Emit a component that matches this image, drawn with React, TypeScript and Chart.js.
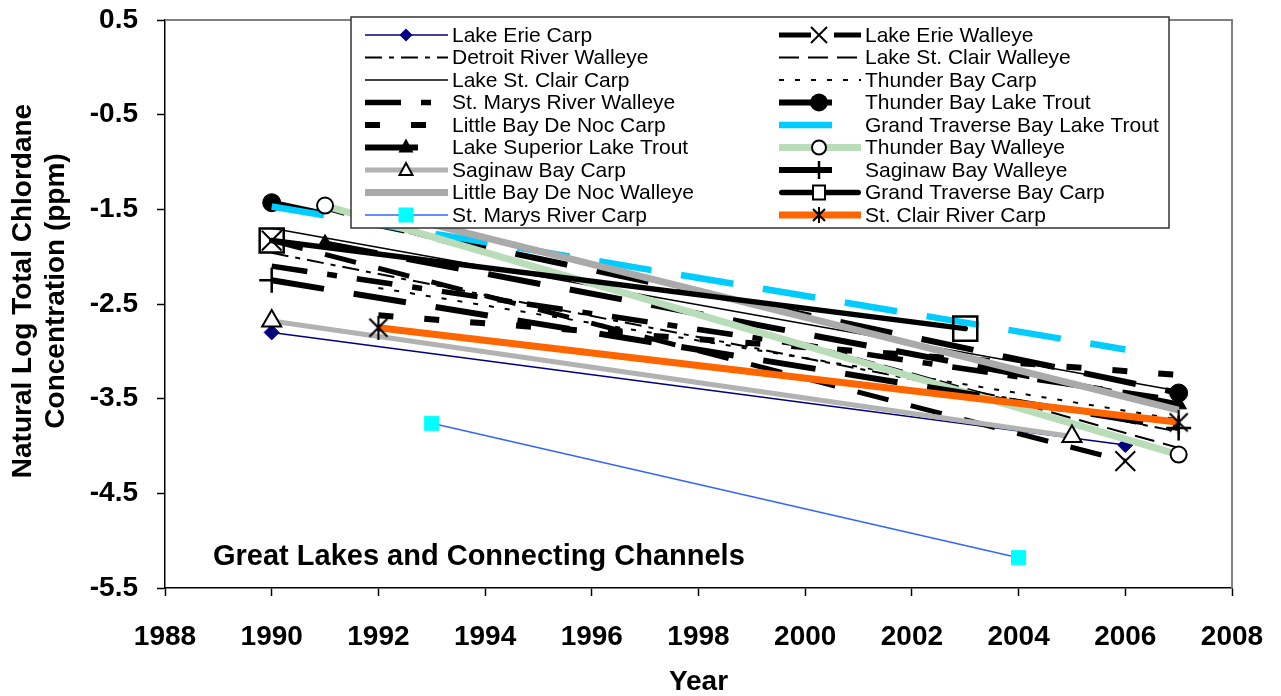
import React, { useEffect, useRef } from 'react';
import { Chart, registerables } from 'chart.js';

Chart.register(...registerables);

const FONT = '"Liberation Sans", Arial, Helvetica, sans-serif';

// ---------------- DATA ----------------
const seriesNames = [
  'Lake Erie Carp',
  'Lake Erie Walleye',
  'Detroit River Walleye',
  'Lake St. Clair Walleye',
  'Lake St. Clair Carp',
  'Thunder Bay Carp',
  'St. Marys River Walleye',
  'Thunder Bay Lake Trout',
  'Little Bay De Noc Carp',
  'Grand Traverse Bay Lake Trout',
  'Lake Superior Lake Trout',
  'Thunder Bay Walleye',
  'Saginaw Bay Carp',
  'Saginaw Bay Walleye',
  'Little Bay De Noc Walleye',
  'Grand Traverse Bay Carp',
  'St. Marys River Carp',
  'St. Clair River Carp',
];

const seriesYears = [
  [1990, 2006],
  [1990, 2006],
  [1990, 2007],
  [1991, 2007],
  [1990, 2007],
  [1992, 2007],
  [1990, 2007],
  [1990, 2007],
  [1992, 2007],
  [1990, 2006],
  [1991, 2007],
  [1991, 2007],
  [1990, 2005],
  [1990, 2007],
  [1992, 2007],
  [1990, 2003],
  [1993, 2004],
  [1992, 2007],
];

const seriesValues = [
  [-2.8, -3.99],
  [-1.83, -4.16],
  [-1.96, -3.85],
  [-1.5, -4.02],
  [-1.7, -3.42],
  [-2.33, -3.72],
  [-2.1, -3.52],
  [-1.43, -3.44],
  [-2.62, -3.25],
  [-1.47, -2.98],
  [-1.86, -3.56],
  [-1.46, -4.09],
  [-2.68, -3.9],
  [-2.25, -3.81],
  [-1.52, -3.62],
  [-1.83, -2.76],
  [-3.76, -5.18],
  [-2.75, -3.75],
];

const xTicks = [1988, 1990, 1992, 1994, 1996, 1998, 2000, 2002, 2004, 2006, 2008];
const yTicks = [0.5, -0.5, -1.5, -2.5, -3.5, -4.5, -5.5];
const xTitle = 'Year';
const yTitle = ['Natural Log Total Chlordane', 'Concentration (ppm)'];
const noteText = 'Great Lakes and Connecting Channels';

// ---------------- STYLES ----------------
type Marker = { style: any; r: number; fill: string; stroke: string; lw: number };
type Style = {
  color: string;
  width: number;
  dash: number[];
  cap?: CanvasLineCap;
  marker?: Marker;
  legendMarker?: string;
};

function makeAsterisk(w: number, h: number, lw: number): HTMLCanvasElement {
  const c = document.createElement('canvas');
  c.width = w;
  c.height = h;
  const g = c.getContext('2d')!;
  g.strokeStyle = '#000';
  g.lineWidth = lw;
  g.beginPath();
  g.moveTo(2, 3);
  g.lineTo(w - 2, h - 3);
  g.moveTo(w - 2, 3);
  g.lineTo(2, h - 3);
  g.moveTo(w / 2, 0);
  g.lineTo(w / 2, h);
  g.stroke();
  return c;
}

function buildStyles(): Style[] {
  const asterisk = makeAsterisk(22, 24, 2.2);
  return [
    { color: '#000080', width: 1.5, dash: [], marker: { style: 'rectRot', r: 7.5, fill: '#000080', stroke: '#000080', lw: 1 }, legendMarker: 'diamond' },
    { color: '#000000', width: 5, dash: [32, 23], marker: { style: 'crossRot', r: 14, fill: '#000', stroke: '#000', lw: 2 }, legendMarker: 'x' },
    { color: '#000000', width: 2, dash: [17, 7, 5, 7] },
    { color: '#000000', width: 2, dash: [20, 9] },
    { color: '#000000', width: 1.5, dash: [] },
    { color: '#000000', width: 2, dash: [5, 11] },
    { color: '#000000', width: 5.5, dash: [36, 20, 10, 20] },
    { color: '#000000', width: 6, dash: [53, 30], marker: { style: 'circle', r: 9, fill: '#000', stroke: '#000', lw: 1 }, legendMarker: 'dot' },
    { color: '#000000', width: 6, dash: [15, 31] },
    { color: '#00ccff', width: 6.5, dash: [53, 30] },
    { color: '#000000', width: 6, dash: [53, 30], marker: { style: 'triangle', r: 9, fill: '#000', stroke: '#000', lw: 1 }, legendMarker: 'triFill' },
    { color: '#b9dcb9', width: 7, dash: [], marker: { style: 'circle', r: 8, fill: '#ffffff', stroke: '#000', lw: 2 }, legendMarker: 'ring' },
    { color: '#b2b2b2', width: 5, dash: [], marker: { style: 'triangle', r: 11, fill: '#ffffff', stroke: '#000', lw: 2 }, legendMarker: 'triOpen' },
    { color: '#000000', width: 6, dash: [53, 30], marker: { style: 'cross', r: 12.5, fill: '#000', stroke: '#000', lw: 2.5 }, legendMarker: 'plus' },
    { color: '#aaaaaa', width: 7, dash: [] },
    { color: '#000000', width: 5.5, dash: [], cap: 'round', marker: { style: 'rect', r: 17, fill: 'rgba(0,0,0,0)', stroke: '#000', lw: 2.5 }, legendMarker: 'square' },
    { color: '#3366ff', width: 1.5, dash: [], marker: { style: 'rect', r: 10, fill: '#00ffff', stroke: '#00ffff', lw: 1 }, legendMarker: 'cyan' },
    { color: '#ff6600', width: 7, dash: [], marker: { style: asterisk, r: 10, fill: '#000', stroke: '#000', lw: 1 }, legendMarker: 'asterisk' },
  ];
}

function drawLegendMarker(ctx: CanvasRenderingContext2D, kind: string, x: number, y: number) {
  ctx.save();
  ctx.setLineDash([]);
  ctx.lineCap = 'butt';
  ctx.strokeStyle = '#000';
  ctx.fillStyle = '#000';
  ctx.beginPath();
  switch (kind) {
    case 'diamond':
      ctx.fillStyle = '#000080';
      ctx.moveTo(x - 6.5, y);
      ctx.lineTo(x, y - 6.5);
      ctx.lineTo(x + 6.5, y);
      ctx.lineTo(x, y + 6.5);
      ctx.closePath();
      ctx.fill();
      break;
    case 'x':
      ctx.lineWidth = 2;
      ctx.moveTo(x - 8, y - 8);
      ctx.lineTo(x + 8, y + 8);
      ctx.moveTo(x + 8, y - 8);
      ctx.lineTo(x - 8, y + 8);
      ctx.stroke();
      break;
    case 'dot':
      ctx.arc(x, y, 9, 0, Math.PI * 2);
      ctx.fill();
      break;
    case 'triFill':
      ctx.moveTo(x, y - 9);
      ctx.lineTo(x + 7.5, y + 5);
      ctx.lineTo(x - 7.5, y + 5);
      ctx.closePath();
      ctx.fill();
      break;
    case 'ring':
      ctx.lineWidth = 2;
      ctx.fillStyle = '#ffffff';
      ctx.arc(x, y, 7, 0, Math.PI * 2);
      ctx.fill();
      ctx.stroke();
      break;
    case 'triOpen':
      ctx.lineWidth = 2;
      ctx.fillStyle = '#ffffff';
      ctx.moveTo(x, y - 7);
      ctx.lineTo(x + 6.5, y + 5);
      ctx.lineTo(x - 6.5, y + 5);
      ctx.closePath();
      ctx.fill();
      ctx.stroke();
      break;
    case 'plus':
      ctx.lineWidth = 2.5;
      ctx.moveTo(x, y - 9);
      ctx.lineTo(x, y + 9);
      ctx.moveTo(x - 9, y);
      ctx.lineTo(x + 9, y);
      ctx.stroke();
      break;
    case 'square':
      ctx.lineWidth = 2;
      ctx.fillStyle = '#ffffff';
      ctx.rect(x - 6, y - 7, 12, 14);
      ctx.fill();
      ctx.stroke();
      break;
    case 'cyan':
      ctx.fillStyle = '#00ffff';
      ctx.fillRect(x - 7.5, y - 7.5, 15, 15);
      break;
    case 'asterisk':
      ctx.lineWidth = 2;
      ctx.moveTo(x - 6, y - 6);
      ctx.lineTo(x + 6, y + 6);
      ctx.moveTo(x + 6, y - 6);
      ctx.lineTo(x - 6, y + 6);
      ctx.moveTo(x, y - 8);
      ctx.lineTo(x, y + 8);
      ctx.stroke();
      break;
  }
  ctx.restore();
}

function makeOverlayPlugin(styles: Style[]) {
  return {
    id: 'overlay',
    afterDraw(chart: any) {
      const ctx: CanvasRenderingContext2D = chart.ctx;
      const ca = chart.chartArea;
      ctx.save();

      // plot-area top and right border
      ctx.strokeStyle = '#808080';
      ctx.lineWidth = 2;
      ctx.beginPath();
      ctx.moveTo(ca.left, ca.top);
      ctx.lineTo(ca.right, ca.top);
      ctx.lineTo(ca.right, ca.bottom);
      ctx.stroke();

      // y-axis title (two lines, rotated)
      ctx.save();
      ctx.fillStyle = '#000';
      ctx.font = `bold 28px ${FONT}`;
      ctx.textAlign = 'center';
      ctx.textBaseline = 'middle';
      const titleCenterY = 291;
      ctx.translate(23, titleCenterY);
      ctx.rotate(-Math.PI / 2);
      ctx.fillText(yTitle[0], 0, 0);
      ctx.fillText(yTitle[1], 0, 33);
      ctx.restore();

      // note text
      ctx.fillStyle = '#000';
      ctx.font = `bold 29px ${FONT}`;
      ctx.textBaseline = 'middle';
      ctx.textAlign = 'left';
      ctx.fillText(noteText, 213, 557);

      // legend box
      const bx = 351, by = 17, bw = 818, bh = 211;
      ctx.fillStyle = '#ffffff';
      ctx.fillRect(bx, by, bw, bh);
      ctx.strokeStyle = '#333333';
      ctx.lineWidth = 1.5;
      ctx.strokeRect(bx, by, bw, bh);

      const rowY0 = 35;
      const rowH = 22.5;
      const cols = [
        { x0: 365, x1: 448, mx: 406, tx: 452 },
        { x0: 779, x1: 861, mx: 819, tx: 865 },
      ];
      ctx.font = `21px ${FONT}`;
      for (let i = 0; i < seriesNames.length; i++) {
        const st = styles[i];
        const col = cols[i % 2];
        const y = rowY0 + Math.floor(i / 2) * rowH;
        ctx.save();
        ctx.strokeStyle = st.color;
        ctx.lineWidth = st.width;
        ctx.lineCap = st.cap || 'butt';
        ctx.setLineDash(st.dash);
        ctx.beginPath();
        const off = st.cap === 'round' ? st.width / 2 : 0;
        ctx.moveTo(col.x0 + off, y);
        ctx.lineTo(col.x1 - off, y);
        ctx.stroke();
        ctx.restore();
        if (st.legendMarker) drawLegendMarker(ctx, st.legendMarker, col.mx, y);
        ctx.fillStyle = '#000';
        ctx.textBaseline = 'middle';
        ctx.textAlign = 'left';
        ctx.fillText(seriesNames[i], col.tx, y + 1);
      }
      ctx.restore();
    },
  };
}

export default function App() {
  const canvasRef = useRef<HTMLCanvasElement | null>(null);

  useEffect(() => {
    const canvas = canvasRef.current;
    if (!canvas) return;
    const styles = buildStyles();
    const n = seriesNames.length;

    const datasets = seriesNames.map((name, i) => {
      const st = styles[i];
      const m = st.marker;
      return {
        label: name,
        data: seriesYears[i].map((yr, j) => ({ x: yr, y: seriesValues[i][j] })),
        borderColor: st.color,
        backgroundColor: st.color,
        borderWidth: st.width,
        borderDash: st.dash,
        borderCapStyle: st.cap || 'butt',
        borderJoinStyle: 'round',
        tension: 0,
        fill: false,
        pointStyle: m ? m.style : 'circle',
        pointRadius: m ? m.r : 0,
        pointHoverRadius: m ? m.r : 0,
        pointBackgroundColor: m ? m.fill : st.color,
        pointBorderColor: m ? m.stroke : st.color,
        pointBorderWidth: m ? m.lw : 0,
        order: n - 1 - i,
      };
    });

    const tickFont = { family: FONT, size: 28, weight: 'bold' as const };

    const chart = new Chart(canvas, {
      type: 'line',
      data: { datasets: datasets as any },
      options: {
        animation: false,
        responsive: false,
        devicePixelRatio: 1,
        events: [],
        layout: { padding: { left: 0, top: 20, right: 49, bottom: 0 } },
        plugins: {
          legend: { display: false },
          tooltip: { enabled: false },
          title: { display: false },
        },
        scales: {
          x: {
            type: 'linear',
            min: xTicks[0],
            max: xTicks[xTicks.length - 1],
            afterBuildTicks: (scale: any) => {
              scale.ticks = xTicks.map((v) => ({ value: v }));
            },
            afterFit: (scale: any) => {
              scale.height = 108;
              scale.paddingLeft = 0;
              scale.paddingRight = 0;
              scale.paddingTop = 0;
              scale.paddingBottom = 0;
            },
            ticks: {
              autoSkip: false,
              maxRotation: 0,
              color: '#000',
              font: tickFont,
              padding: 24,
              callback: (v: any) => String(v),
            },
            grid: {
              drawOnChartArea: false,
              drawTicks: true,
              tickLength: 8,
              color: '#000',
              tickColor: '#000',
              tickWidth: 1.5,
            },
            border: { color: '#000', width: 1.5 },
            title: {
              display: true,
              text: xTitle,
              color: '#000',
              font: { family: FONT, size: 28, weight: 'bold', lineHeight: 1 },
              padding: { top: 0, bottom: 0 },
            },
          },
          y: {
            type: 'linear',
            min: yTicks[yTicks.length - 1],
            max: yTicks[0],
            afterBuildTicks: (scale: any) => {
              scale.ticks = yTicks.map((v) => ({ value: v }));
            },
            afterFit: (scale: any) => {
              scale.width = 165;
              scale.paddingLeft = 0;
              scale.paddingRight = 0;
              scale.paddingTop = 0;
              scale.paddingBottom = 0;
            },
            ticks: {
              autoSkip: false,
              color: '#000',
              font: tickFont,
              padding: 19,
              callback: (v: any) => Number(v).toFixed(1),
            },
            grid: {
              drawOnChartArea: false,
              drawTicks: true,
              tickLength: 8,
              color: '#000',
              tickColor: '#000',
              tickWidth: 1.5,
            },
            border: { color: '#000', width: 1.5 },
            title: { display: false },
          },
        },
      } as any,
      plugins: [makeOverlayPlugin(styles)],
    });

    return () => {
      chart.destroy();
    };
  }, []);

  return (
    <canvas
      ref={canvasRef}
      width={1281}
      height={696}
      style={{ position: 'absolute', left: 0, top: 0, width: 1281, height: 696, display: 'block', background: '#fff' }}
    />
  );
}
